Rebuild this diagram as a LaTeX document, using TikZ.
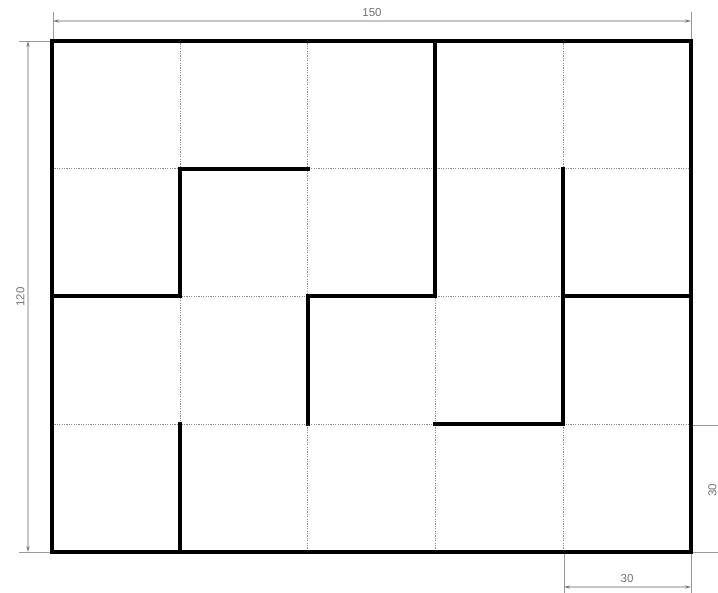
\documentclass[tikz,border=0pt]{standalone}
\usepackage{fontspec}
\setmainfont{Liberation Sans}
\usetikzlibrary{arrows.meta}
\begin{document}
\begin{tikzpicture}[x=1pt,y=-1pt,
  gridline/.style={black!45, line width=0.5pt, dash pattern=on 1.2pt off 1.2pt},
  wall/.style={black, line width=4pt, line cap=rect, line join=miter},
  dimline/.style={black!22, line width=1.4pt,
     {Stealth[length=6pt,width=3.2pt,color=black!55]}-{Stealth[length=6pt,width=3.2pt,color=black!55]}},
  extline/.style={black!40, line width=0.8pt},
  dimtext/.style={text=black!55, font=\fontsize{11.5}{12}\selectfont, inner sep=0pt}]
\useasboundingbox (0,0) rectangle (718,593);
% dimensions
\draw[extline] (53,12) -- (53,41);
\draw[extline] (691,12) -- (691,41);
\draw[dimline] (53,21) -- (691,21);
\node[dimtext] (t150) at (372,13) {150};
\draw[extline] (19,41) -- (52,41);
\draw[extline] (19,552) -- (52,552);
\draw[dimline] (28,41) -- (28,552);
\node[dimtext, rotate=90] (t120) at (20.5,297) {120};
\draw[extline] (691,425) -- (718,425);
\draw[extline] (691,552) -- (718,552);
\node[dimtext, rotate=90] (t30r) at (712.5,490) {30};
\draw[extline] (564,552) -- (564,593);
\draw[extline] (691,552) -- (691,593);
\draw[dimline] (564,587) -- (691,587);
\node[dimtext] (t30b) at (627,578.5) {30};
% plan
\begin{scope}[shift={(52,41)}, x=127.8pt, y=-127.75pt]
  \foreach \i in {1,...,4} \draw[gridline] (\i,0) -- (\i,4);
  \foreach \j in {1,...,3} \draw[gridline] (0,\j) -- (5,\j);
  \draw[wall] (0,0) rectangle (5,4);
  \draw[wall] (3,0) -- (3,2) -- (2,2) -- (2,3);
  \draw[wall] (0,2) -- (1,2) -- (1,1) -- (2,1);
  \draw[wall] (4,1) -- (4,3) -- (3,3);
  \draw[wall] (4,2) -- (5,2);
  \draw[wall] (1,3) -- (1,4);
\end{scope}
\end{tikzpicture}
\end{document}
